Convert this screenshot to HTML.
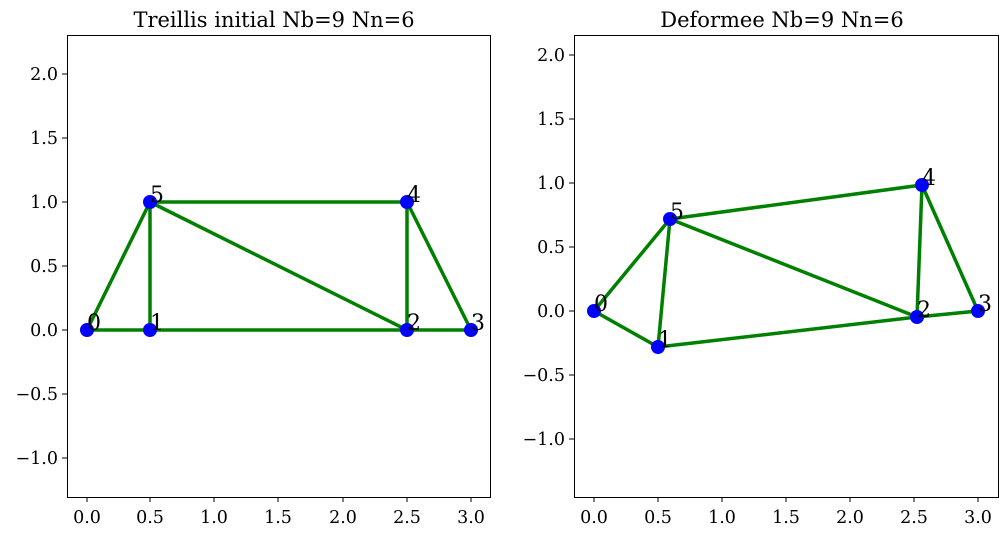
<!DOCTYPE html>
<html><head><meta charset="utf-8"><style>
html,body{margin:0;padding:0;background:#fff;}
svg{display:block;font-family:"DejaVu Serif","Liberation Serif",serif;}
</style></head><body>
<svg width="1007" height="535" viewBox="0 0 1007 535">
<rect width="1007" height="535" fill="#fff"/>
<!-- Left plot -->
<g>
<text x="274" y="27" font-size="21" text-anchor="middle">Treillis initial Nb=9 Nn=6</text>
<g stroke="green" stroke-width="3.5" fill="none" stroke-linecap="round">
<line x1="87" y1="330" x2="150" y2="202"/>
<line x1="87" y1="330" x2="150" y2="330"/>
<line x1="150" y1="330" x2="150" y2="202"/>
<line x1="150" y1="330" x2="407" y2="330"/>
<line x1="150" y1="202" x2="407" y2="330"/>
<line x1="150" y1="202" x2="407" y2="202"/>
<line x1="407" y1="202" x2="407" y2="330"/>
<line x1="407" y1="202" x2="471" y2="330"/>
<line x1="407" y1="330" x2="471" y2="330"/>
</g>
<g fill="blue">
<circle cx="87" cy="330" r="7"/><circle cx="150" cy="330" r="7"/><circle cx="407" cy="330" r="7"/>
<circle cx="471" cy="330" r="7"/><circle cx="407" cy="202" r="7"/><circle cx="150" cy="202" r="7"/>
</g>
<g font-size="22">
<text x="87" y="330">0</text><text x="150" y="330">1</text><text x="407" y="330">2</text>
<text x="471" y="330">3</text><text x="407" y="202">4</text><text x="150" y="202">5</text>
</g>
<rect x="67.5" y="35.5" width="423" height="462" fill="none" stroke="#000" stroke-width="1"/>
<g stroke="#000"><line x1="87" y1="497" x2="87" y2="502"/><line x1="150" y1="497" x2="150" y2="502"/><line x1="214" y1="497" x2="214" y2="502"/><line x1="278" y1="497" x2="278" y2="502"/><line x1="343" y1="497" x2="343" y2="502"/><line x1="407" y1="497" x2="407" y2="502"/><line x1="471" y1="497" x2="471" y2="502"/>
<line x1="62" y1="74" x2="67" y2="74"/><line x1="62" y1="138" x2="67" y2="138"/><line x1="62" y1="202" x2="67" y2="202"/><line x1="62" y1="266" x2="67" y2="266"/><line x1="62" y1="330" x2="67" y2="330"/><line x1="62" y1="394" x2="67" y2="394"/><line x1="62" y1="458" x2="67" y2="458"/></g>
<g font-size="17.5" text-anchor="middle"><text x="87" y="523">0.0</text><text x="150" y="523">0.5</text><text x="214" y="523">1.0</text><text x="278" y="523">1.5</text><text x="343" y="523">2.0</text><text x="407" y="523">2.5</text><text x="471" y="523">3.0</text></g>
<g font-size="17.5" text-anchor="end"><text x="58" y="80">2.0</text><text x="58" y="144">1.5</text><text x="58" y="208">1.0</text><text x="58" y="272">0.5</text><text x="58" y="336">0.0</text><text x="58" y="400">−0.5</text><text x="58" y="464">−1.0</text></g>
</g>
<!-- Right plot -->
<g>
<text x="782" y="27" font-size="21" text-anchor="middle">Deformee Nb=9 Nn=6</text>
<g stroke="green" stroke-width="3.5" fill="none" stroke-linecap="round">
<line x1="594" y1="311" x2="670" y2="219"/>
<line x1="594" y1="311" x2="658" y2="347"/>
<line x1="658" y1="347" x2="670" y2="219"/>
<line x1="658" y1="347" x2="917" y2="317"/>
<line x1="670" y1="219" x2="917" y2="317"/>
<line x1="670" y1="219" x2="922" y2="185"/>
<line x1="922" y1="185" x2="917" y2="317"/>
<line x1="922" y1="185" x2="978" y2="311"/>
<line x1="917" y1="317" x2="978" y2="311"/>
</g>
<g fill="blue">
<circle cx="594" cy="311" r="7"/><circle cx="658" cy="347" r="7"/><circle cx="917" cy="317" r="7"/>
<circle cx="978" cy="311" r="7"/><circle cx="922" cy="185" r="7"/><circle cx="670" cy="219" r="7"/>
</g>
<g font-size="22">
<text x="594" y="311">0</text><text x="658" y="347">1</text><text x="917" y="317">2</text>
<text x="978" y="311">3</text><text x="922" y="185">4</text><text x="670" y="219">5</text>
</g>
<rect x="574.5" y="35.5" width="424" height="462" fill="none" stroke="#000" stroke-width="1"/>
<g stroke="#000"><line x1="594" y1="497" x2="594" y2="502"/><line x1="658" y1="497" x2="658" y2="502"/><line x1="722" y1="497" x2="722" y2="502"/><line x1="786" y1="497" x2="786" y2="502"/><line x1="850" y1="497" x2="850" y2="502"/><line x1="914" y1="497" x2="914" y2="502"/><line x1="978" y1="497" x2="978" y2="502"/>
<line x1="569" y1="55" x2="574" y2="55"/><line x1="569" y1="119" x2="574" y2="119"/><line x1="569" y1="183" x2="574" y2="183"/><line x1="569" y1="247" x2="574" y2="247"/><line x1="569" y1="311" x2="574" y2="311"/><line x1="569" y1="375" x2="574" y2="375"/><line x1="569" y1="439" x2="574" y2="439"/></g>
<g font-size="17.5" text-anchor="middle"><text x="594" y="523">0.0</text><text x="658" y="523">0.5</text><text x="722" y="523">1.0</text><text x="786" y="523">1.5</text><text x="850" y="523">2.0</text><text x="914" y="523">2.5</text><text x="978" y="523">3.0</text></g>
<g font-size="17.5" text-anchor="end"><text x="565" y="61">2.0</text><text x="565" y="125">1.5</text><text x="565" y="189">1.0</text><text x="565" y="253">0.5</text><text x="565" y="317">0.0</text><text x="565" y="381">−0.5</text><text x="565" y="445">−1.0</text></g>
</g>
</svg>
</body></html>
